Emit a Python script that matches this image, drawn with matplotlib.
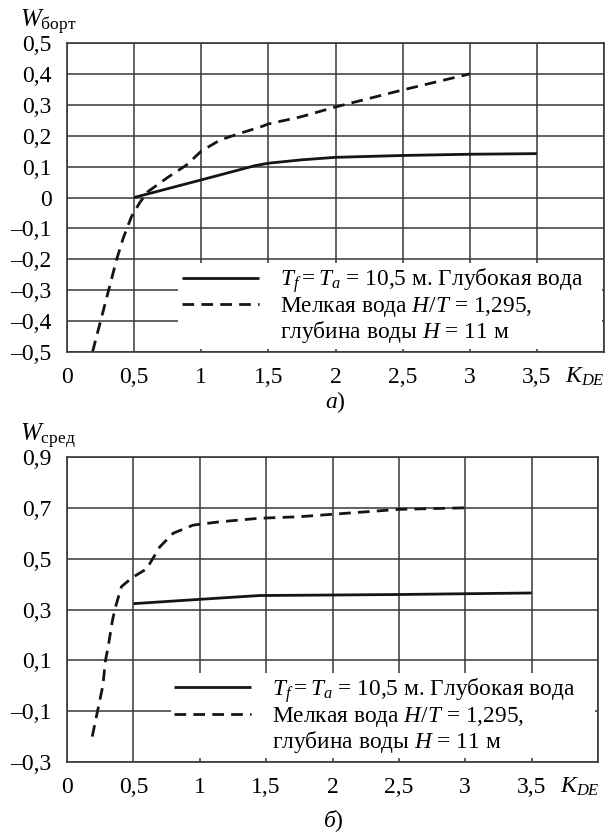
import matplotlib
matplotlib.use("Agg")
import matplotlib.pyplot as plt
from matplotlib.lines import Line2D

plt.rcParams['font.family'] = ['Liberation Serif', 'DejaVu Serif']
plt.rcParams['mathtext.fontset'] = 'custom'
plt.rcParams['mathtext.rm'] = 'Liberation Serif'
plt.rcParams['mathtext.it'] = 'Liberation Serif:italic'
plt.rcParams['mathtext.bf'] = 'Liberation Serif:bold'

# ---- data: panel a) W_борт ----
a_deep_x = [0.5, 1.0, 1.4, 1.5, 1.75, 2.0, 2.5, 3.0, 3.5]
a_deep_y = [0.0, 0.057, 0.103, 0.111, 0.122, 0.13, 0.136, 0.14, 0.142]
a_shal_x = [0.19, 0.25, 0.31, 0.37, 0.42, 0.48, 0.54, 0.60, 0.75, 0.89, 1.0, 1.14, 1.29, 1.44, 1.5, 1.75, 2.0, 2.5, 3.0]
a_shal_y = [-0.5, -0.4, -0.3, -0.2, -0.13, -0.062, -0.018, 0.018, 0.065, 0.105, 0.15, 0.186, 0.208, 0.228, 0.238, 0.262, 0.293, 0.348, 0.40]

# ---- data: panel б) W_сред ----
b_deep_x = [0.5, 1.0, 1.45, 2.0, 2.5, 3.0, 3.5]
b_deep_y = [0.323, 0.34, 0.355, 0.357, 0.359, 0.362, 0.365]
b_shal_x = [0.19, 0.23, 0.27, 0.29, 0.31, 0.34, 0.36, 0.41, 0.49, 0.6, 0.7, 0.8, 0.95, 1.15, 1.45, 1.75, 2.5, 3.0]
b_shal_y = [-0.2, -0.1, 0.0, 0.1, 0.153, 0.25, 0.30, 0.39, 0.425, 0.46, 0.547, 0.60, 0.632, 0.645, 0.659, 0.665, 0.694, 0.70]

x_ticks = [0, 0.5, 1, 1.5, 2, 2.5, 3, 3.5, 4]
x_labels = ['0', '0,5', '1', '1,5', '2', '2,5', '3', '3,5', '']
a_yticks = [-0.5, -0.4, -0.3, -0.2, -0.1, 0, 0.1, 0.2, 0.3, 0.4, 0.5]
a_ylabels = ['–0,5', '–0,4', '–0,3', '–0,2', '–0,1', '0', '0,1', '0,2', '0,3', '0,4', '0,5']
b_yticks = [-0.3, -0.1, 0.1, 0.3, 0.5, 0.7, 0.9]
b_ylabels = ['–0,3', '–0,1', '0,1', '0,3', '0,5', '0,7', '0,9']

lab_deep = r'$T_f = T_a$ = 10,5 м. Глубокая вода'
lab_shal1 = r'Мелкая вода $H/T$ = 1,295,'
lab_shal2 = r'глубина воды $H$ = 11 м'

W, H = 607, 835
fig = plt.figure(figsize=(W / 100, H / 100), dpi=100)

GRID = '#383838'
LINE = '#151515'
FS = 17
LFS = 16.8


def make_axes(rect, ylim, yticks, ylabels, deep, shal, leg_box):
    ax = fig.add_axes(rect)
    ax.set_xlim(0, 4)
    ax.set_ylim(*ylim)
    ax.set_xticks(x_ticks)
    ax.set_xticklabels(x_labels)
    ax.set_yticks(yticks)
    ax.set_yticklabels(ylabels)
    ax.tick_params(length=0, labelsize=FS)
    ax.tick_params(axis='y', pad=11)
    ax.tick_params(axis='x', pad=11)
    ax.grid(True, color=GRID, lw=1.1)
    for s in ax.spines.values():
        s.set_color(GRID)
        s.set_linewidth(1.2)
    l1, = ax.plot(deep[0], deep[1], color=LINE, lw=2.0, solid_capstyle='butt')
    l2, = ax.plot(shal[0], shal[1], color=LINE, lw=2.0, linestyle=(0, (4.2, 2.6)))
    blank = Line2D([], [], color='none')
    leg = ax.legend([l1, l2, blank], [lab_deep, lab_shal1, lab_shal2],
                    loc='lower left', bbox_to_anchor=leg_box, mode='expand',
                    fontsize=LFS, frameon=True, fancybox=False,
                    facecolor='white', edgecolor='white', framealpha=1,
                    handlelength=3.3, handletextpad=0.9, labelspacing=0.0,
                    borderpad=0.15, borderaxespad=0.0)
    leg.get_frame().set_linewidth(0)
    return ax


ax1 = make_axes([67 / W, 1 - 352 / H, 537 / W, 309 / H], (-0.5, 0.5),
                a_yticks, a_ylabels, (a_deep_x, a_deep_y), (a_shal_x, a_shal_y),
                (0.2075, 0.01, 0.788, 0.25))
ax2 = make_axes([67 / W, 1 - 762 / H, 531 / W, 305 / H], (-0.3, 0.9),
                b_yticks, b_ylabels, (b_deep_x, b_deep_y), (b_shal_x, b_shal_y),
                (0.195, 0.012, 0.80, 0.25))

fig.text(20 / W, 1 - 27 / H, r'$W_{\mathrm{борт}}$', fontsize=18, ha='left', va='baseline')
fig.text(20 / W, 1 - 441 / H, r'$W_{\mathrm{сред}}$', fontsize=18, ha='left', va='baseline')
fig.text(585 / W, 1 - 383 / H, r'$K_{DE}$', fontsize=FS, ha='center', va='baseline')
fig.text(580 / W, 1 - 793 / H, r'$K_{DE}$', fontsize=FS, ha='center', va='baseline')
fig.text(335 / W, 1 - 402 / H, r'$\mathit{а}$)', fontsize=FS, ha='center', va='center')
fig.text(333 / W, 1 - 821 / H, r'$\mathit{б}$)', fontsize=FS, ha='center', va='center')

fig.savefig('out.png', dpi=100)
